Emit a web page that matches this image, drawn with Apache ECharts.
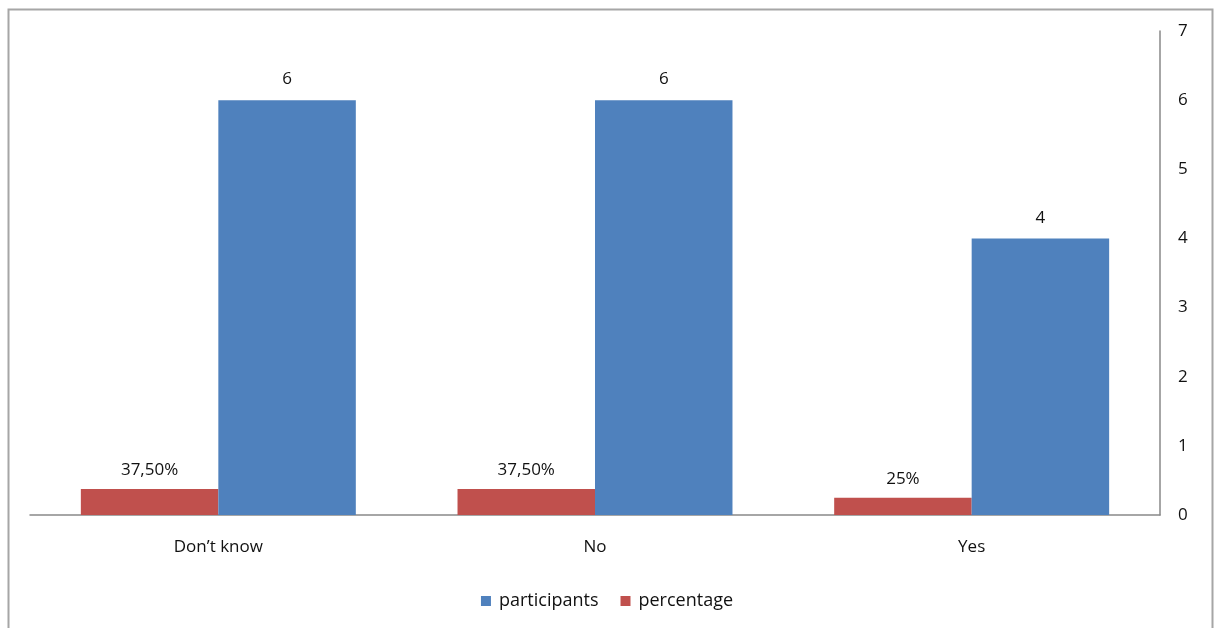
<!DOCTYPE html>
<html><head><meta charset="utf-8">
<script src="https://cdn.jsdelivr.net/npm/echarts@6/dist/echarts.min.js"></script>
<style>html,body{margin:0;padding:0;background:#fff}#c{width:1214px;height:628px}</style>
</head><body><div id="c"></div>
<script>
const categories = ["Don\u2019t know", "No", "Yes"];
const participants = [6, 6, 4];
const percentage = [0.375, 0.375, 0.25];
const percentageLabels = ["37,50%", "37,50%", "25%"];
const yTicks = [0, 1, 2, 3, 4, 5, 6, 7];

const FONT = 'Open Sans';
const FS = 17;
const chart = echarts.init(document.getElementById('c'), null, {renderer: 'canvas'});
chart.setOption({
  animation: false,
  textStyle: {fontFamily: FONT, color: '#111'},
  graphic: [{
    type: 'rect', silent: true,
    shape: {x: 8.5, y: 9.5, width: 1204, height: 660},
    style: {fill: 'none', stroke: '#a6a6a6', lineWidth: 2}
  }],
  grid: {left: 30, right: 54, top: 31, bottom: 113},
  legend: {
    data: ['participants', 'percentage'],
    bottom: 13, left: 'center',
    icon: 'rect', itemWidth: 10, itemHeight: 10, itemGap: 22,
    textStyle: {fontFamily: FONT, fontSize: 18, color: '#111', padding: [0, 0, 0, 3]}
  },
  xAxis: {
    type: 'category', data: categories,
    axisLine: {lineStyle: {color: '#898989', width: 1.5}},
    axisTick: {show: false},
    axisLabel: {fontFamily: FONT, fontSize: FS, color: '#111', margin: 24}
  },
  yAxis: {
    type: 'value', position: 'right', min: yTicks[0], max: yTicks[yTicks.length - 1], interval: 1,
    axisLine: {show: true, lineStyle: {color: '#898989', width: 1.5}},
    axisTick: {show: false},
    splitLine: {show: false},
    axisLabel: {fontFamily: FONT, fontSize: FS, color: '#111', margin: 18}
  },
  series: [
    {
      name: 'percentage', type: 'bar', data: percentage,
      itemStyle: {color: '#C0504D'},
      barGap: '0%', barCategoryGap: '27%',
      label: {show: true, position: 'top', distance: 10, fontFamily: FONT, fontSize: FS, color: '#111',
        formatter: p => percentageLabels[p.dataIndex]}
    },
    {
      name: 'participants', type: 'bar', data: participants,
      itemStyle: {color: '#4F81BD'},
      barGap: '0%', barCategoryGap: '27%',
      label: {show: true, position: 'top', distance: 12, fontFamily: FONT, fontSize: FS, color: '#111'}
    }
  ]
});
</script></body></html>
